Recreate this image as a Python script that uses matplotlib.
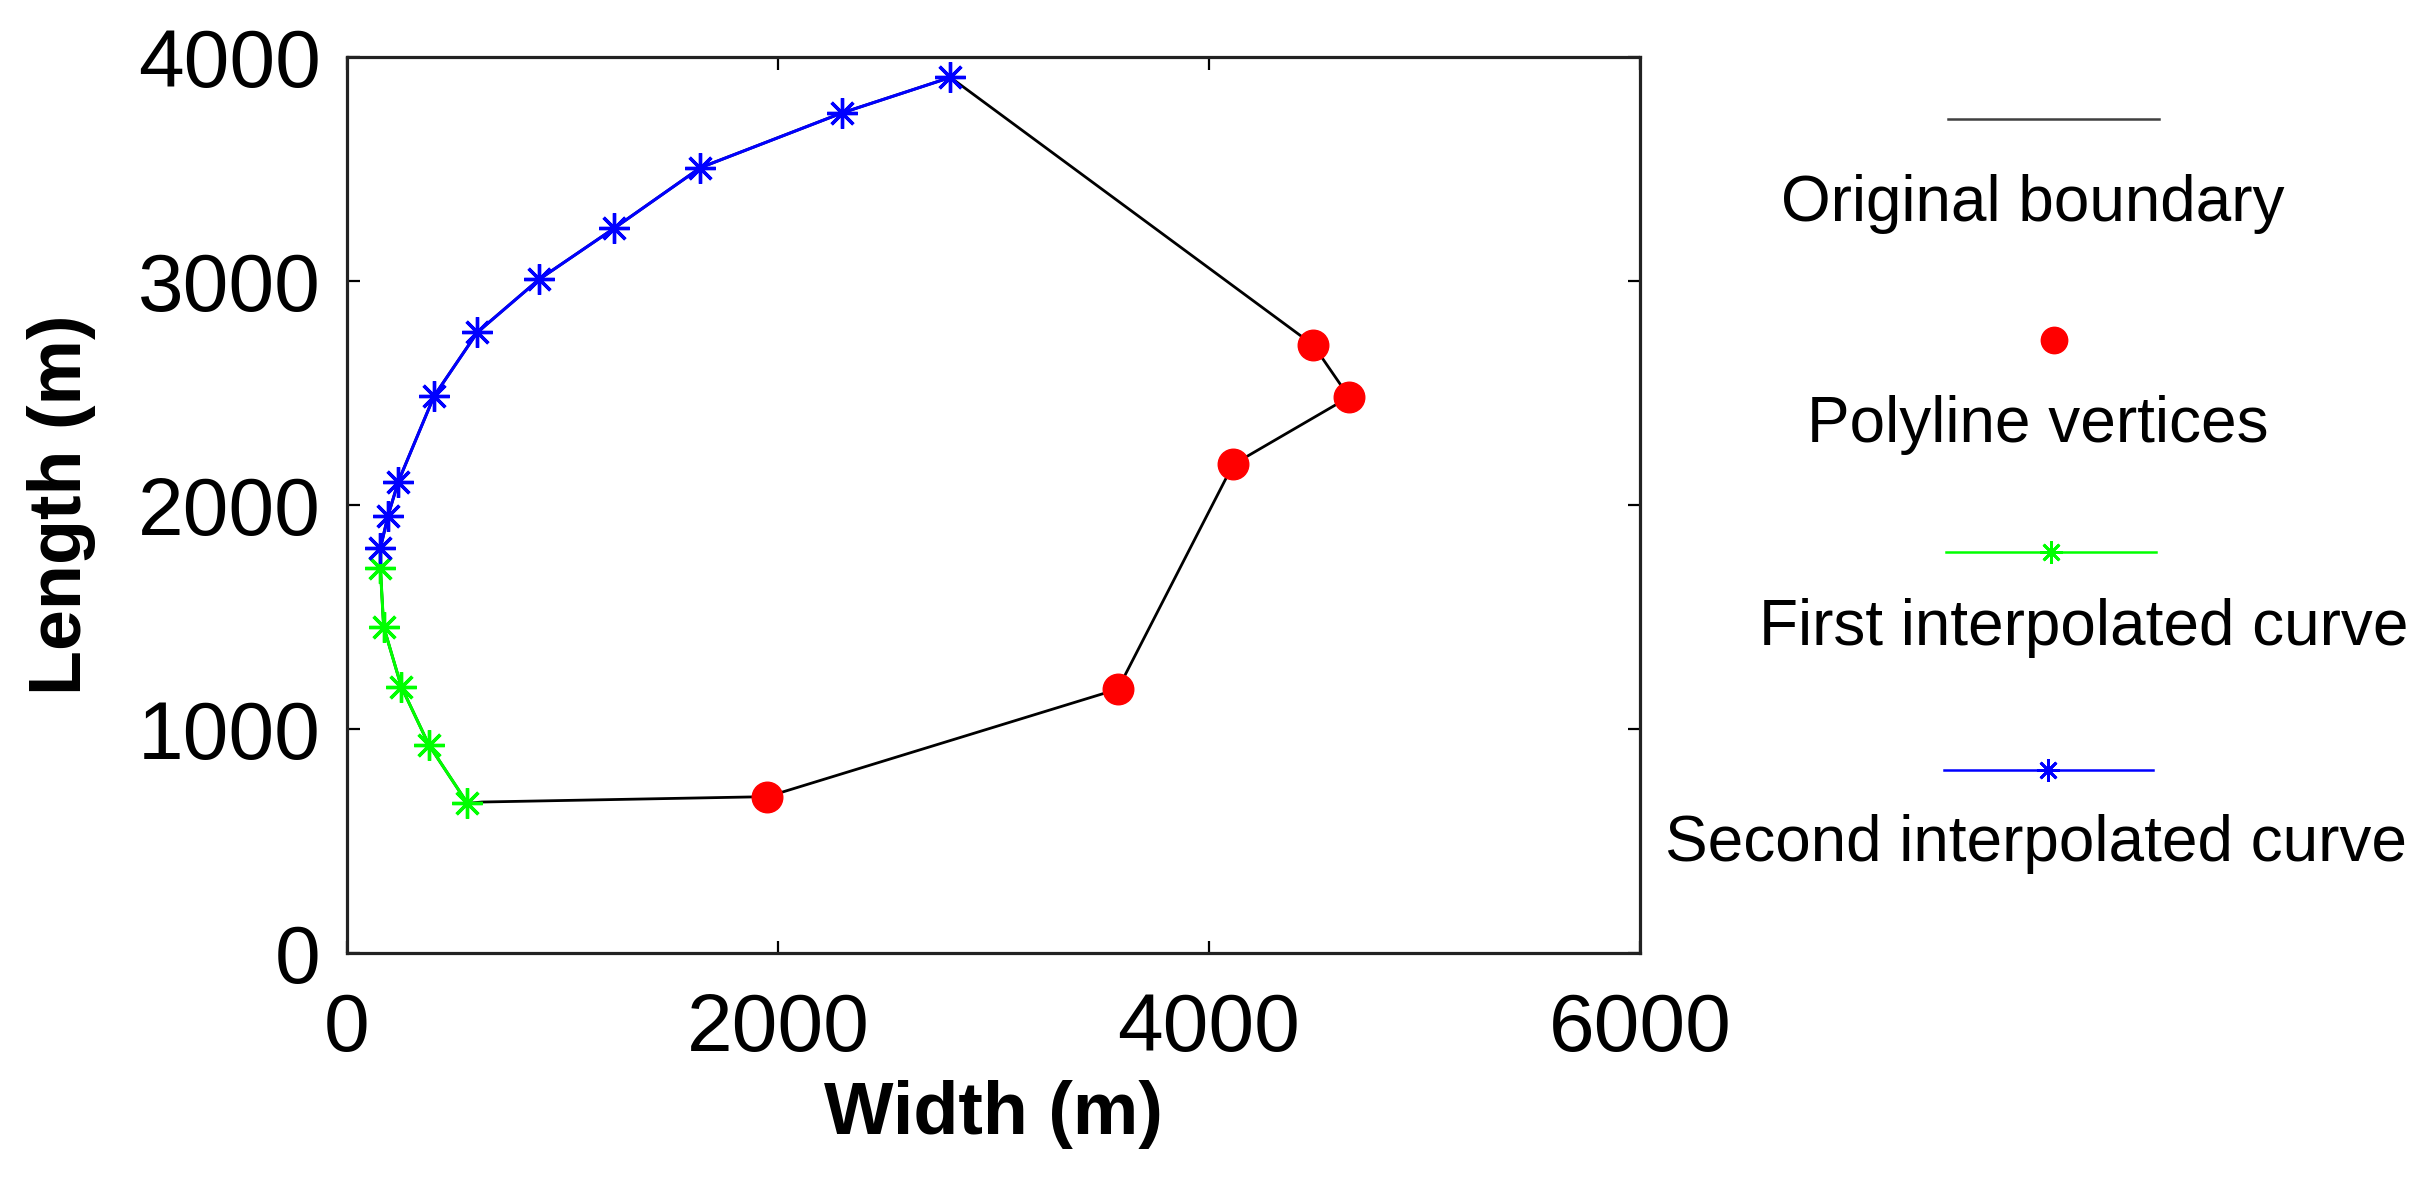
import matplotlib
matplotlib.use("Agg")
import matplotlib.pyplot as plt

plt.rcParams['font.family'] = ['Liberation Sans', 'DejaVu Sans']

# ---- data ----
boundary_x = [2800, 4484, 4650, 4112, 3577, 1951, 626, 559, 380, 252, 170, 155,
              155, 190, 238, 404, 605, 891, 1239, 1640, 2299, 2800]
boundary_y = [3909, 2714, 2482, 2181, 1178, 698, 674, 668, 929, 1189, 1457, 1717,
              1807, 1951, 2104, 2486, 2771, 3007, 3235, 3506, 3751, 3909]

vertex_x = [1951, 3577, 4112, 4650, 4484]
vertex_y = [698, 1178, 2181, 2482, 2714]

first_x = [155, 170, 252, 380, 559]
first_y = [1717, 1457, 1189, 929, 668]

second_x = [155, 190, 238, 404, 605, 891, 1239, 1640, 2299, 2800]
second_y = [1807, 1951, 2104, 2486, 2771, 3007, 3235, 3506, 3751, 3909]

xticks = [0, 2000, 4000, 6000]
yticks = [0, 1000, 2000, 3000, 4000]
legend_labels = ["Original boundary", "Polyline vertices",
                 "First interpolated curve", "Second interpolated curve"]

W, H = 2428, 1192
fig = plt.figure(figsize=(W / 100, H / 100), dpi=100)
fig.patch.set_facecolor('white')

ast = (8, 2, 0)  # MATLAB-like asterisk

ax = fig.add_axes([347 / W, (H - 953) / H, (1640 - 347) / W, (953 - 57) / H])
ax.plot(boundary_x, boundary_y, color='black', lw=2.0, zorder=2)
ax.plot(first_x, first_y, color='#00ff00', lw=2.2, marker=ast, ms=22,
        mec='#00ff00', mew=2.4, zorder=3)
ax.plot(second_x, second_y, color='#0000ff', lw=2.2, marker=ast, ms=22,
        mec='#0000ff', mew=2.4, zorder=4)
ax.plot(vertex_x, vertex_y, ls='none', marker='o', ms=22, color='#ff0000',
        mec='#ff0000', zorder=5)

ax.set_xlim(0, 6000)
ax.set_ylim(0, 4000)
ax.set_xticks(xticks)
ax.set_yticks(yticks)
ax.set_xticklabels([str(v) for v in xticks])
ax.set_yticklabels([str(v) for v in yticks])
ax.tick_params(direction='in', length=9, width=1.6, top=True, right=True,
               labelsize=59, colors='black')
ax.tick_params(axis='x', pad=28)
ax.tick_params(axis='y', pad=19)
for s in ax.spines.values():
    s.set_linewidth(2.3)
    s.set_color('#222222')

ax.set_xlabel('Width (m)', fontsize=53, fontweight='bold')
ax.set_ylabel('Length (m)', fontsize=53, fontweight='bold')
ax.xaxis.set_label_coords(0.5, -0.142)
ax.yaxis.set_label_coords(-0.194, 0.5)

# ---- legend (MATLAB style: sample above text) ----
lax = fig.add_axes([0, 0, 1, 1])
lax.set_xlim(0, W)
lax.set_ylim(H, 0)
lax.axis('off')
lax.patch.set_visible(False)

lax.plot([1948, 2159], [119, 119], color='#404040', lw=1.8)
lax.plot([2054], [340], ls='none', marker='o', ms=19, color='#ff0000')
lax.plot([1946, 2156], [552, 552], color='#00ff00', lw=1.8)
lax.plot([2051], [552], ls='none', marker=ast, ms=16, mec='#00ff00', mew=2)
lax.plot([1944, 2153], [770, 770], color='#0000ff', lw=1.8)
lax.plot([2048], [770], ls='none', marker=ast, ms=16, mec='#0000ff', mew=2)

text_x = [2033, 2038, 2084, 2036]
text_y = [221, 442, 645, 861]
for lbl, tx, ty in zip(legend_labels, text_x, text_y):
    lax.text(tx, ty, lbl, fontsize=46, ha='center', va='baseline', color='black')

fig.savefig('out.png', dpi=100, facecolor='white')
